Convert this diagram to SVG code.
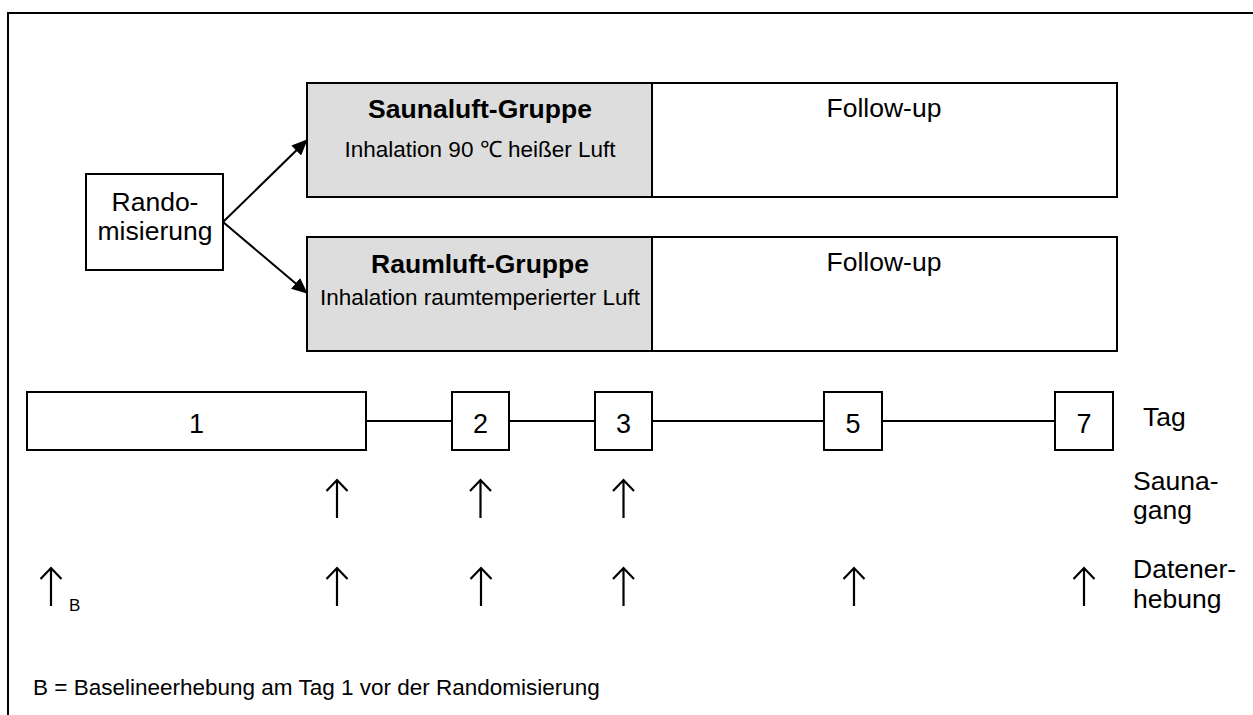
<svg xmlns="http://www.w3.org/2000/svg" xmlns:xlink="http://www.w3.org/1999/xlink" width="1253" height="715" viewBox="0 0 1253 715">
<style>
text{font-family:"Liberation Sans",Arial,sans-serif;fill:#000}
.box{fill:#fff;stroke:#000;stroke-width:2}
.gray{fill:#dddddd;stroke:#000;stroke-width:2}
.lbl{font-size:26.5px}
.ttl{font-size:26.5px;font-weight:bold}
.sub{font-size:22.5px}
.foot{font-size:22.5px}
.num{font-size:27px}
.sm{font-size:17px}
.line{stroke:#000;stroke-width:2;fill:none}
.up{stroke:#000;stroke-width:2.2;fill:none}
</style>
<defs>
<marker id="ah" markerWidth="16" markerHeight="14" refX="15" refY="7" orient="auto" markerUnits="userSpaceOnUse">
<path d="M0,0 L16,7 L0,14 Z" fill="#000"/>
</marker>
<path id="uparrow" class="up" d="M0,0 V38 M-10.5,11 L0,0 L10.5,11"/>
</defs>
<rect x="0" y="0" width="1253" height="715" fill="#fff"/>
<rect id="frame" x="8" y="13" width="1260" height="720" fill="none" stroke="#000" stroke-width="2"/>

<g id="connectors">
<line class="line" x1="223" y1="222" x2="307" y2="140" marker-end="url(#ah)"/>
<line class="line" x1="223" y1="222" x2="307" y2="293" marker-end="url(#ah)"/>
<line class="line" x1="366" y1="421" x2="1055" y2="421"/>
</g>

<g id="randomisierung">
<rect class="box" x="86" y="174" width="137" height="96"/>
<text class="lbl" x="155" y="211" text-anchor="middle">Rando-</text>
<text class="lbl" x="155" y="240" text-anchor="middle">misierung</text>
</g>

<g id="saunaluft">
<rect class="gray" x="307" y="83" width="345" height="114"/>
<text class="ttl" x="480" y="118" text-anchor="middle">Saunaluft-Gruppe</text>
<text class="sub" x="480" y="157" text-anchor="middle">Inhalation 90 ℃ heißer Luft</text>
</g>
<g id="followup1">
<rect class="box" x="652" y="83" width="465" height="114"/>
<text class="lbl" x="884" y="117" text-anchor="middle">Follow-up</text>
</g>

<g id="raumluft">
<rect class="gray" x="307" y="237" width="345" height="114"/>
<text class="ttl" x="480" y="273" text-anchor="middle">Raumluft-Gruppe</text>
<text class="sub" x="480" y="305" text-anchor="middle">Inhalation raumtemperierter Luft</text>
</g>
<g id="followup2">
<rect class="box" x="652" y="237" width="465" height="114"/>
<text class="lbl" x="884" y="271" text-anchor="middle">Follow-up</text>
</g>

<g id="tag1">
<rect class="box" x="27" y="392" width="339" height="58"/>
<text class="num" x="196.5" y="433" text-anchor="middle">1</text>
</g>
<g id="tag2">
<rect class="box" x="452" y="392" width="57" height="58"/>
<text class="num" x="480.5" y="433" text-anchor="middle">2</text>
</g>
<g id="tag3">
<rect class="box" x="595" y="392" width="57" height="58"/>
<text class="num" x="623.5" y="433" text-anchor="middle">3</text>
</g>
<g id="tag5">
<rect class="box" x="824" y="392" width="58" height="58"/>
<text class="num" x="853" y="433" text-anchor="middle">5</text>
</g>
<g id="tag7">
<rect class="box" x="1055" y="392" width="58" height="58"/>
<text class="num" x="1084" y="433" text-anchor="middle">7</text>
</g>

<g id="labels">
<text class="lbl" x="1143" y="426">Tag</text>
<text class="lbl" x="1133" y="490">Sauna-</text>
<text class="lbl" x="1133" y="519">gang</text>
<text class="lbl" x="1133" y="578">Datener-</text>
<text class="lbl" x="1133" y="608">hebung</text>
</g>

<g id="saunagang-arrows">
<use xlink:href="#uparrow" x="337" y="480"/>
<use xlink:href="#uparrow" x="480.5" y="480"/>
<use xlink:href="#uparrow" x="623.5" y="480"/>
</g>

<g id="datenerhebung-arrows">
<use xlink:href="#uparrow" x="51" y="568"/>
<use xlink:href="#uparrow" x="337" y="568"/>
<use xlink:href="#uparrow" x="481" y="568"/>
<use xlink:href="#uparrow" x="623.5" y="568"/>
<use xlink:href="#uparrow" x="854" y="568"/>
<use xlink:href="#uparrow" x="1084" y="568"/>
<text class="sm" x="69" y="611">B</text>
</g>

<g id="footnote">
<text class="foot" x="33" y="695">B = Baselineerhebung am Tag 1 vor der Randomisierung</text>
</g>
</svg>
